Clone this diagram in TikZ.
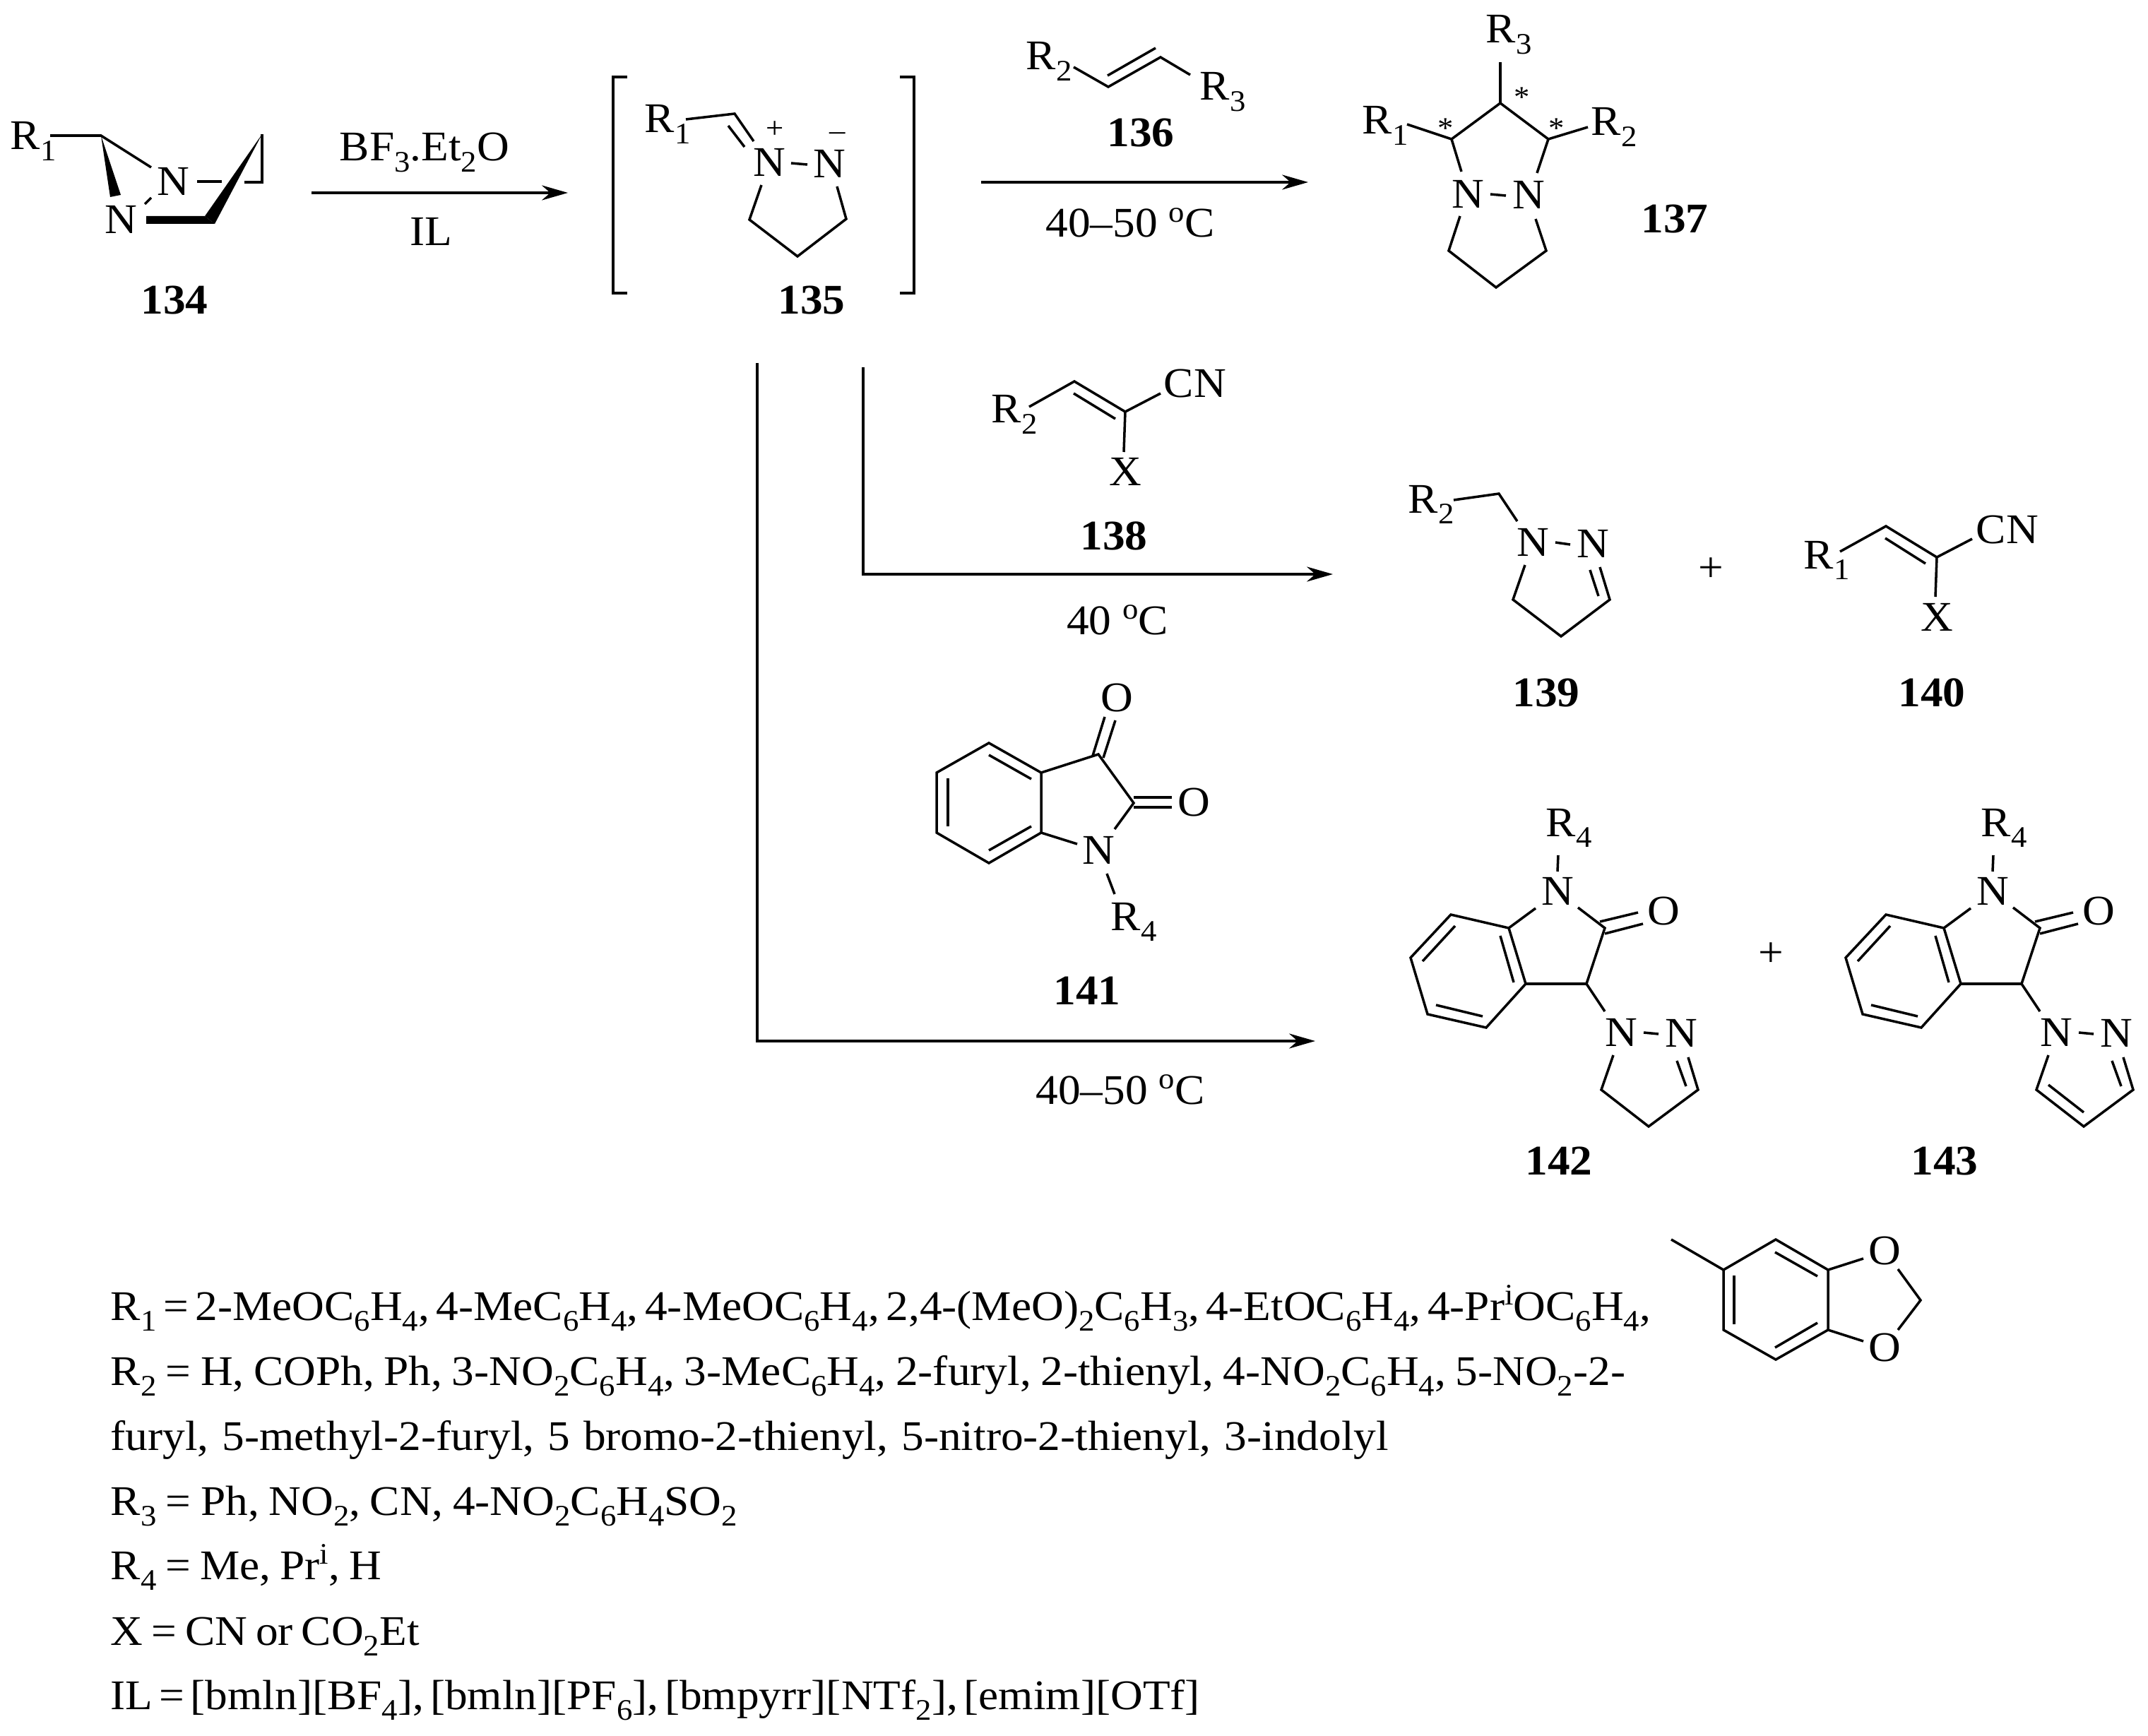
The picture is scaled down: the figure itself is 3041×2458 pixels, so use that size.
\documentclass[tikz,border=0pt]{standalone}
\usepackage{fontspec}
\setmainfont[FakeStretch=1.06]{Liberation Serif}
\usetikzlibrary{arrows.meta}
\newcommand{\sbs}[1]{\raisebox{-4.5pt}{\fontsize{12}{14}\selectfont #1}}
\newcommand{\sps}[1]{\raisebox{6pt}{\fontsize{12}{14}\selectfont #1}}
\tikzset{
  atom/.style={inner sep=0pt},
  grp/.style={inner sep=0pt,anchor=base west},
  lgnd/.style={grp,execute at begin node={\spaceskip=#1\relax}},
  cmpd/.style={inner sep=0pt,anchor=base,font=\fontsize{17}{20}\selectfont\bfseries},
  cond/.style={inner sep=0pt,anchor=base},
  chg/.style={inner sep=0pt,font=\fontsize{12}{14}\selectfont},
  rxn/.style={-{Stealth[length=10.5pt,width=6pt]}}
}
\begin{document}
\begin{tikzpicture}[x=0.01cm,y=-0.01cm,line width=1pt,font=\fontsize{17}{20}\selectfont]
  \useasboundingbox (0,0) rectangle (3041,2458);
  % 134
  \node[grp] (r134) at (13,212) {R\sbs{1}};
  \node[atom] (na134) at (245,257) {N};
  \node[atom] (nb134) at (171,311) {N};
  \draw (71,192) -- (143,192) -- (214,237);
  \fill (143,192) -- (156,279) -- (171,276) -- cycle;
  \draw (279,257) -- (314,257);
  \draw (346,258) -- (371,258) -- (371,190);
  \fill (371,190) -- (290,306) -- (304,317) -- cycle;
  \fill (207,306) -- (290,306) -- (304,317) -- (207,317) -- cycle;
  \draw (214,280) -- (205,289);
  \node[cmpd] (c134) at (247,445) {134};
  % first arrow
  \coordinate (a1s) at (441,273);
  \coordinate (a1e) at (804,273);
  \draw[rxn] (a1s) -- (a1e);
  \node[cond] (bf) at (601,228) {BF\sbs{3}.Et\sbs{2}O};
  \node[cond] (il) at (610,348) {IL};
  % 135
  \draw (888,109) -- (868,109) -- (868,415) -- (888,415);
  \draw (1274,109) -- (1294,109) -- (1294,415) -- (1274,415);
  \node[grp] (r135) at (911,188) {R\sbs{1}};
  \node[atom] (na135) at (1089,230) {N};
  \node[atom] (nb135) at (1174,232) {N};
  \node[chg] (plus135) at (1097,184) {+};
  \node[chg] (minus135) at (1186,193) {--};
  \draw (971,169) -- (1040,161) -- (1067,200);
  \draw (1031,178) -- (1054,208);
  \draw (1120,231) -- (1143,233);
  \draw (1078,262) -- (1061,311) -- (1129,363) -- (1198,310) -- (1185,264);
  \node[cmpd] (c135) at (1149,445) {135};
  % 136
  \node[grp] (ra136) at (1451,99) {R\sbs{2}};
  \node[grp] (rb136) at (1697,142) {R\sbs{3}};
  \draw (1520,95) -- (1569,123) -- (1643,81) -- (1685,106);
  \draw (1568,107) -- (1636,68);
  \node[cmpd] (c136) at (1615,208) {136};
  \coordinate (a2s) at (1389,258);
  \coordinate (a2e) at (1852,258);
  \draw[rxn] (a2s) -- (a2e);
  \node[cond] (t137) at (1600,336) {40--50 \sps{o}C};
  % 137
  \node[grp] (rc137) at (2102,61) {R\sbs{3}};
  \node[grp] (ra137) at (1927,190) {R\sbs{1}};
  \node[grp] (rb137) at (2251,192) {R\sbs{2}};
  \node[atom] (na137) at (2078,275) {N};
  \node[atom] (nb137) at (2164,276) {N};
  \node[atom,font=\fontsize{12}{14}\selectfont] (sa137) at (2047,182) {*};
  \node[atom,font=\fontsize{12}{14}\selectfont] (sb137) at (2155,138) {*};
  \node[atom,font=\fontsize{12}{14}\selectfont] (sc137) at (2204,182) {*};
  \draw (2124,88) -- (2124,146);
  \draw (2069,243) -- (2055,197) -- (2124,146) -- (2192,197) -- (2176,245);
  \draw (1992,176) -- (2055,197);
  \draw (2248,180) -- (2192,197);
  \draw (2110,275) -- (2132,277);
  \draw (2067,306) -- (2051,355) -- (2118,407) -- (2189,355) -- (2174,310);
  \node[cmpd] (c137) at (2371,330) {137};
  % routes to the lower products
  \coordinate (a3s) at (1222,520);
  \coordinate (a3e) at (1887,813);
  \coordinate (a4s) at (1072,514);
  \coordinate (a4e) at (1862,1474);
  \draw[rxn] (a3s) |- (a3e);
  \draw[rxn] (a4s) |- (a4e);
  \node[cond] (t139) at (1582,898) {40 \sps{o}C};
  \node[cond] (t142) at (1586,1563) {40--50 \sps{o}C};
  % 138
  \node[grp] (r138) at (1402,599) {R\sbs{2}};
  \node[grp] (cn138) at (1646,563) {CN};
  \node[grp] (x138) at (1569,688) {X};
  \draw (1457,576) -- (1521,540) -- (1593,583) -- (1643,557);
  \draw (1520,557) -- (1579,593);
  \draw (1593,583) -- (1591,640);
  \node[cmpd] (c138) at (1577,778) {138};
  % 139
  \node[grp] (r139) at (1992,726) {R\sbs{2}};
  \node[atom] (na139) at (2170,768) {N};
  \node[atom] (nb139) at (2255,770) {N};
  \draw (2058,708) -- (2122,699) -- (2148,738);
  \draw (2202,768) -- (2223,771);
  \draw (2159,800) -- (2142,849) -- (2210,901) -- (2279,849) -- (2265,803);
  \draw (2251,807) -- (2263,844);
  \node[cmpd] (c139) at (2189,1000) {139};
  \node[atom] (p139) at (2422,807) {+};
  % 140
  \node[grp] (r140) at (2552,805) {R\sbs{1}};
  \node[grp] (cn140) at (2796,770) {CN};
  \node[grp] (x140) at (2718,893) {X};
  \draw (2605,781) -- (2670,745) -- (2742,789) -- (2792,763);
  \draw (2669,762) -- (2726,798);
  \draw (2742,789) -- (2740,845);
  \node[cmpd] (c140) at (2735,1000) {140};
  % 141
  \draw (1400,1052) -- (1474,1094) -- (1474,1179) -- (1400,1222) -- (1326,1179) -- (1326,1094) -- cycle;
  \draw (1400,1069) -- (1460,1103);
  \draw (1342,1102) -- (1342,1170);
  \draw (1400,1204) -- (1460,1170);
  \draw (1474,1094) -- (1555,1068) -- (1605,1137) -- (1578,1174);
  \draw (1474,1179) -- (1525,1195);
  \draw (1567,1237) -- (1578,1266);
  \draw (1547,1070) -- (1564,1015);
  \draw (1562,1073) -- (1579,1020);
  \draw (1605,1129) -- (1659,1129);
  \draw (1605,1143) -- (1659,1143);
  \node[atom] (n141) at (1555,1204) {N};
  \node[atom] (oa141) at (1581,988) {O};
  \node[atom] (ob141) at (1690,1136) {O};
  \node[grp] (r141) at (1571,1317) {R\sbs{4}};
  \node[cmpd] (c141) at (1539,1422) {141};
  % 142 and 143
  \foreach \dx/\lab in {0/142,616/143} {
    \begin{scope}[shift={(\dx,0)}]
      \node[grp] (r\lab) at (2187,1184) {R\sbs{4}};
      \node[atom] (n\lab) at (2205,1262) {N};
      \node[atom] (o\lab) at (2355,1290) {O};
      \node[atom] (na\lab) at (2295,1462) {N};
      \node[atom] (nb\lab) at (2380,1463) {N};
      \draw (2206,1211) -- (2205,1234);
      \draw (2136,1314) -- (2054,1295) -- (1997,1356) -- (2021,1436) -- (2104,1455) -- (2160,1393) -- cycle;
      \draw (2060,1311) -- (2014,1361);
      \draw (2033,1423) -- (2099,1439);
      \draw (2124,1325) -- (2143,1391);
      \draw (2174,1286) -- (2136,1314);
      \draw (2160,1393) -- (2246,1393) -- (2272,1314) -- (2234,1285);
      \draw (2265,1305) -- (2319,1292);
      \draw (2272,1322) -- (2326,1308);
      \draw (2246,1393) -- (2272,1432);
      \draw (2327,1462) -- (2348,1464);
      \draw (2284,1494) -- (2267,1543) -- (2334,1595) -- (2404,1543) -- (2390,1497);
    \end{scope}
  }
  \draw (2374,1502) -- (2387,1538);
  \draw (2990,1502) -- (3003,1538);
  \draw (2900,1536) -- (2950,1575);
  \node[cmpd] (c142) at (2207,1663) {142};
  \node[cmpd] (c143) at (2753,1663) {143};
  \node[atom] (p142) at (2507,1352) {+};
  % piperonyl group
  \draw (2366,1755) -- (2440,1798);
  \draw (2440,1798) -- (2514,1755) -- (2588,1798) -- (2588,1883) -- (2514,1925) -- (2440,1883) -- cycle;
  \draw (2513,1773) -- (2573,1807);
  \draw (2455,1806) -- (2455,1875);
  \draw (2513,1908) -- (2573,1873);
  \draw (2588,1798) -- (2638,1782);
  \draw (2588,1883) -- (2638,1899);
  \draw (2687,1797) -- (2719,1841) -- (2687,1883);
  \node[atom] (oa) at (2668,1771) {O};
  \node[atom] (ob) at (2668,1908) {O};
  % legend
  \node[lgnd=2.75pt] (l1) at (155,1869) {R\sbs{1} = 2-MeOC\sbs{6}H\sbs{4}, 4-MeC\sbs{6}H\sbs{4}, 4-MeOC\sbs{6}H\sbs{4}, 2,4-(MeO)\sbs{2}C\sbs{6}H\sbs{3}, 4-EtOC\sbs{6}H\sbs{4}, 4-Pr\sps{i}OC\sbs{6}H\sbs{4},};
  \node[lgnd=3.85pt] (l2) at (155,1961) {R\sbs{2} = H, COPh, Ph, 3-NO\sbs{2}C\sbs{6}H\sbs{4}, 3-MeC\sbs{6}H\sbs{4}, 2-furyl, 2-thienyl, 4-NO\sbs{2}C\sbs{6}H\sbs{4}, 5-NO\sbs{2}-2-};
  \node[lgnd=5.4pt] (l3) at (155,2053) {furyl, 5-methyl-2-furyl, 5 bromo-2-thienyl, 5-nitro-2-thienyl, 3-indolyl};
  \node[lgnd=3.85pt] (l4) at (155,2145) {R\sbs{3} = Ph, NO\sbs{2}, CN, 4-NO\sbs{2}C\sbs{6}H\sbs{4}SO\sbs{2}};
  \node[lgnd=3.7pt] (l5) at (155,2236) {R\sbs{4} = Me, Pr\sps{i}, H};
  \node[lgnd=3.4pt] (l6) at (155,2329) {X = CN or CO\sbs{2}Et};
  \node[lgnd=2.5pt] (l7) at (155,2420) {IL = [bmln][BF\sbs{4}], [bmln][PF\sbs{6}], [bmpyrr][NTf\sbs{2}], [emim][OTf]};
\end{tikzpicture}
\end{document}
